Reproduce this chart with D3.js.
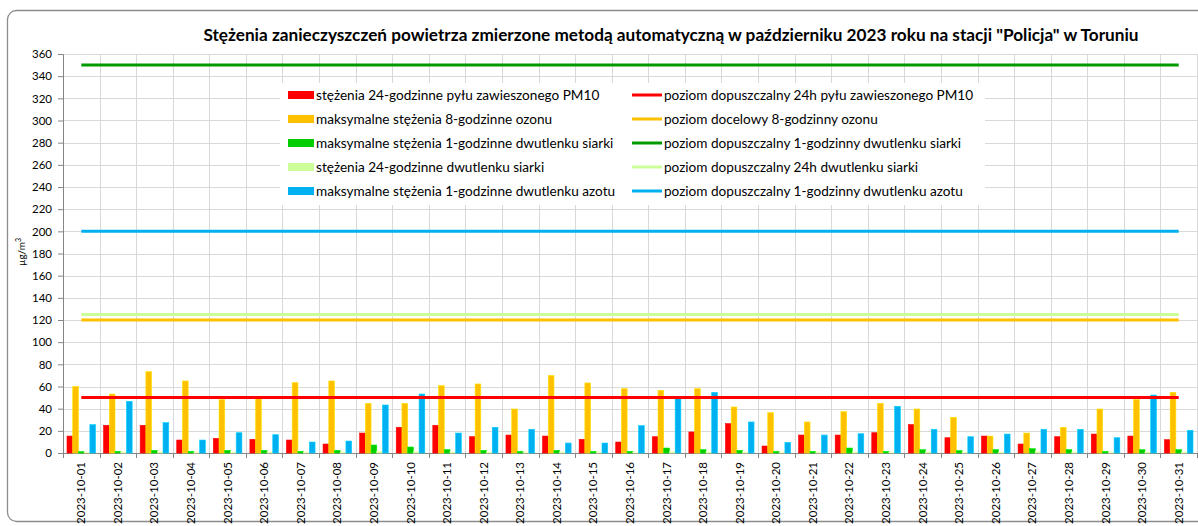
<!DOCTYPE html>
<html>
<head>
<meta charset="utf-8">
<script src="https://cdn.jsdelivr.net/npm/d3@7"></script>
<style>
  body { margin:0; background:#fff; }
  svg text { font-family: Lato, "Open Sans", sans-serif; fill:#000; }
</style>
</head>
<body>
<svg id="chart" width="1198" height="526"></svg>
<script>
// dates (categories)
const days = ["2023-10-01","2023-10-02","2023-10-03","2023-10-04","2023-10-05","2023-10-06","2023-10-07","2023-10-08",
  "2023-10-09","2023-10-10","2023-10-11","2023-10-12","2023-10-13","2023-10-14","2023-10-15","2023-10-16",
  "2023-10-17","2023-10-18","2023-10-19","2023-10-20","2023-10-21","2023-10-22","2023-10-23","2023-10-24",
  "2023-10-25","2023-10-26","2023-10-27","2023-10-28","2023-10-29","2023-10-30","2023-10-31"];

// bar series
const pm10   = [15.3,25,25,11.7,13.2,12.3,11.7,8.1,18,23.2,25,14.7,16.2,15.3,12.3,9.9,14.7,19,26.5,6.3,16.2,16.2,18.3,25.6,13.8,15.3,8.1,14.7,17.1,15.3,12];
const ozone  = [60,53.2,73.4,65,48.1,50.2,63.5,65,44.8,44.8,60.8,62.3,39.7,70,63.2,58,56.5,58,41.5,36.4,28,37.3,44.8,39.7,32.2,15.3,18,23.2,39.7,48.1,54.7];
const so2_1h = [1.2,1.5,2.4,1.5,2.4,2.4,1.5,2.4,7.2,5.4,3,2.4,1.5,2.4,1.5,1.5,4.5,3,2.4,1.5,1.5,4.5,1.5,3,2.1,3,3.9,3,1.5,3,3];
const so2_24h= [0.8,0.9,1,0.8,0.9,0.9,0.8,0.9,1.2,1.1,0.9,0.9,0.8,0.9,0.8,0.8,1,0.9,0.9,0.8,0.8,1,0.8,0.9,0.8,0.9,1.2,0.9,0.8,0.9,0.9];
const no2    = [25.6,46.6,27.4,11.7,18.3,16.5,9.9,10.8,43.3,53.2,18,23.2,21.4,9,9,24.7,50.2,54.7,28,9.6,16.2,17.4,42.1,21.4,14.7,17.1,21.4,21.4,13.8,52.3,20.5];

// limit lines
const pm10Limit = 50, ozoneTarget = 120, so2_1hLimit = 350, so2_24hLimit = 125, no2Limit = 200;

const yTicks = d3.range(0, 361, 20);

const barNames = ["stężenia 24-godzinne pyłu zawieszonego PM10",
  "maksymalne stężenia 8-godzinne ozonu",
  "maksymalne stężenia 1-godzinne dwutlenku siarki",
  "stężenia 24-godzinne dwutlenku siarki",
  "maksymalne stężenia 1-godzinne dwutlenku azotu"];
const lineNames = ["poziom dopuszczalny 24h pyłu zawieszonego PM10",
  "poziom docelowy 8-godzinny ozonu",
  "poziom dopuszczalny 1-godzinny dwutlenku siarki",
  "poziom dopuszczalny 24h dwutlenku siarki",
  "poziom dopuszczalny 1-godzinny dwutlenku azotu"];
const barColors  = ["#ff0000","#ffc000","#00cc00","#ccff99","#00b0f0"];
const lineColors = ["#ff0000","#ffc000","#009900","#ccff99","#00b0f0"];

const barSeries = [pm10, ozone, so2_1h, so2_24h, no2];
const lineVals = [pm10Limit, ozoneTarget, so2_1hLimit, so2_24hLimit, no2Limit];

const svg = d3.select("#chart");
const m = {left:63, right:1197, top:54, bottom:453};

// chart frame
svg.append("rect").attr("x",7.5).attr("y",10.5).attr("width",1210).attr("height",511)
  .attr("rx",9).attr("fill","none").attr("stroke","#8c8c8c").attr("stroke-width",1.3);

const x0 = d3.scaleBand().domain(days).range([m.left, m.right]);
const x1 = d3.scaleBand().domain(d3.range(5)).range([0, x0.bandwidth()]).paddingOuter(0.7);
const y = d3.scaleLinear().domain([0,360]).range([m.bottom, m.top]);

// grid
const grid = svg.append("g");
grid.selectAll(".hg").data(yTicks).join("line")
  .attr("x1",m.left).attr("x2",m.right)
  .attr("y1",d=>Math.round(y(d))+0.5).attr("y2",d=>Math.round(y(d))+0.5)
  .attr("stroke","#d9d9d9");
grid.selectAll(".vg").data(days.slice(1).concat(["end"])).join("line")
  .attr("x1",(d,i)=>Math.round(m.left + (i+1)*x0.step())+0.5)
  .attr("x2",(d,i)=>Math.round(m.left + (i+1)*x0.step())+0.5)
  .attr("y1",m.top).attr("y2",m.bottom)
  .attr("stroke","#d9d9d9");

// y axis
const yAxis = svg.append("g").attr("transform",`translate(${m.left},0)`)
  .call(d3.axisLeft(y).tickValues(yTicks).tickSize(5).tickPadding(6));
yAxis.select(".domain").attr("stroke","#868686");
yAxis.selectAll(".tick line").attr("stroke","#868686");
yAxis.selectAll(".tick text").attr("font-size",11.5).attr("fill","#000");

// x axis: ticks at band boundaries
const xa = svg.append("g");
xa.append("line").attr("x1",m.left).attr("x2",m.right).attr("y1",m.bottom+0.5).attr("y2",m.bottom+0.5).attr("stroke","#868686");
xa.selectAll(".xt").data(d3.range(days.length+1)).join("line")
  .attr("x1",i=>Math.round(m.left + i*x0.step())+0.5).attr("x2",i=>Math.round(m.left + i*x0.step())+0.5)
  .attr("y1",m.bottom).attr("y2",m.bottom+5).attr("stroke","#868686");
xa.selectAll(".xl").data(days).join("text")
  .attr("transform",d=>`translate(${x0(d)+x0.bandwidth()/2+4},${m.bottom+9}) rotate(-90)`)
  .attr("text-anchor","end").attr("font-size",11.5).text(d=>d);

// bars
barSeries.forEach((vals,si)=>{
  svg.append("g").selectAll("rect").data(vals).join("rect")
    .attr("x",(d,i)=>x0(days[i]) + x1(si))
    .attr("width",x1.bandwidth())
    .attr("y",d=>y(d))
    .attr("height",d=>m.bottom - y(d))
    .attr("fill",barColors[si])
    .attr("stroke",d3.color(barColors[si]).brighter(0.5)).attr("stroke-width",0.6);
});

// limit lines
const cFirst = x0(days[0]) + x0.bandwidth()/2, cLast = x0(days[days.length-1]) + x0.bandwidth()/2;
[3,1,4,2,0].forEach(li=>{
  svg.append("line").attr("x1",cFirst).attr("x2",cLast)
    .attr("y1",y(lineVals[li])).attr("y2",y(lineVals[li]))
    .attr("stroke",lineColors[li]).attr("stroke-width",3);
});

// legend
const lg = svg.append("g");
lg.append("rect").attr("x",280).attr("y",83).attr("width",705).attr("height",122).attr("fill","#fff");
const rowY = i => 95 + i*24;
barNames.forEach((n,i)=>{
  lg.append("rect").attr("x",288).attr("y",rowY(i)-4).attr("width",26).attr("height",8).attr("fill",barColors[i]);
  lg.append("text").attr("x",316).attr("y",rowY(i)+4.5).attr("font-size",13.6).text(n);
});
lineNames.forEach((n,i)=>{
  lg.append("line").attr("x1",632).attr("x2",662).attr("y1",rowY(i)).attr("y2",rowY(i))
    .attr("stroke",lineColors[i]).attr("stroke-width",3);
  lg.append("text").attr("x",664).attr("y",rowY(i)+4.5).attr("font-size",13.6).text(n);
});

// title
svg.append("text").attr("x",671).attr("y",41).attr("text-anchor","middle")
  .attr("font-size",17.2).attr("font-weight","bold")
  .text('Stężenia zanieczyszczeń powietrza zmierzone metodą automatyczną w październiku 2023 roku na stacji "Policja" w Toruniu');

// y label
const yl = svg.append("text").attr("transform","translate(25,252) rotate(-90)")
  .attr("text-anchor","middle").attr("font-size",10);
yl.append("tspan").text("µg/m");
yl.append("tspan").attr("dy",-4).attr("font-size",7).text("3");
</script>
</body>
</html>
